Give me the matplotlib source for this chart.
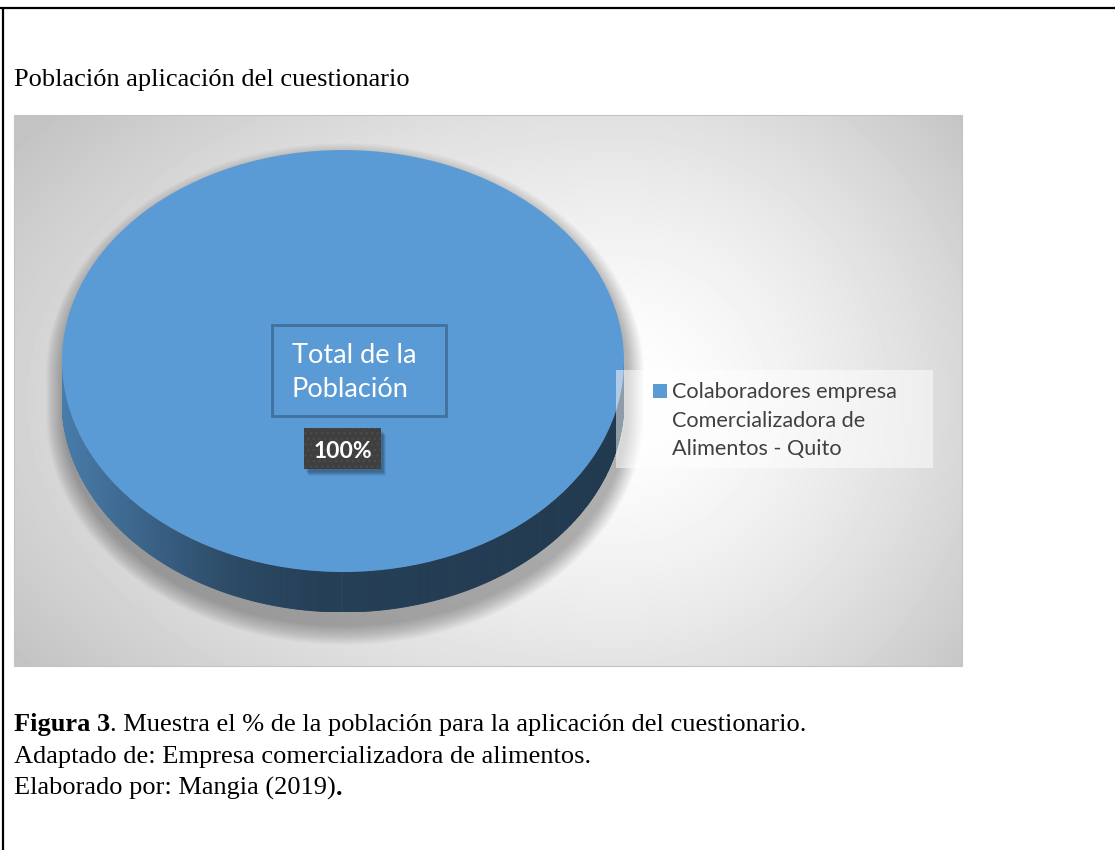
import numpy as np
import matplotlib
matplotlib.use("Agg")
import matplotlib.pyplot as plt
import matplotlib.colors as mcolors
from matplotlib.patches import Rectangle, Polygon
from matplotlib.collections import PolyCollection

# ---------------- data ----------------
page_title = "Población aplicación del cuestionario"
categories = ["Colaboradores empresa\nComercializadora de\nAlimentos - Quito"]
values = [100]
slice_colors = ["#5b9bd5"]
chart_title = "Total de la\nPoblación"
caption_bold = "Figura 3"
caption_rest = ". Muestra el % de la población para la aplicación del cuestionario."
caption_lines = ["Adaptado de: Empresa comercializadora de alimentos.",
                 "Elaborado por: Mangia (2019)"]
caption_end = "."

W, H = 1115, 850
SERIF = "Liberation Serif"
SANS = "Lato"

fig = plt.figure(figsize=(W / 100, H / 100), dpi=100)
fig.patch.set_facecolor("white")

# background / page axes in pixel coordinates
bg = fig.add_axes([0, 0, 1, 1])
bg.set_xlim(0, W)
bg.set_ylim(H, 0)
bg.axis("off")
bg.set_zorder(0)

# page frame
bg.plot([0, W], [8, 8], color="black", lw=1.6, solid_capstyle="butt")
bg.plot([3, 3], [8, H], color="black", lw=1.6, solid_capstyle="butt")

# chart area with radial gradient
px0, px1, py0, py1 = 14, 962, 115, 666
xs = np.arange(px0, px1) + 0.5
ys = np.arange(py0, py1) + 0.5
X, Y = np.meshgrid(xs, ys)
rx = np.where(X < 620, 700.0, 430.0)
d = np.sqrt(((X - 620) / rx) ** 2 + ((Y - 400) / 420.0) ** 2)
g = np.clip(255 - 55 * d ** 1.5, 196, 255) / 255.0
bg.imshow(g, cmap="gray", vmin=0, vmax=1, extent=(px0, px1, py1, py0),
          interpolation="bilinear", aspect="auto", zorder=0)
bg.add_patch(Rectangle((px0, py0), px1 - px0, py1 - py0, fill=False,
                       edgecolor="#c4c4c4", lw=0.8, zorder=1))

# page title
bg.text(14, 86, page_title, fontfamily=SERIF, fontsize=19, color="black",
        va="baseline", ha="left")

# captions
t1 = bg.text(14, 731, caption_bold, fontfamily=SERIF, fontsize=19,
             fontweight="bold", va="baseline", ha="left")
bg.annotate(caption_rest, xy=(1, 0), xycoords=t1, va="bottom", ha="left",
            fontfamily=SERIF, fontsize=19)
last = None
for i, line in enumerate(caption_lines):
    last = bg.text(14, 763 + i * 31.5, line, fontfamily=SERIF, fontsize=19,
                   va="baseline", ha="left")
bg.annotate(caption_end, xy=(1, 0), xycoords=last, va="bottom", ha="left",
            fontfamily=SERIF, fontsize=19, fontweight="bold")

# ---------------- 3D pie ----------------
cx0, cx1 = 62, 624
top, face_bottom, side_bottom = 150, 572, 612
a_px = (cx1 - cx0) / 2.0
b_px = (face_bottom - top) / 2.0
depth = (side_bottom - face_bottom) / b_px

ax = fig.add_axes([cx0 / W, 1 - side_bottom / H, (cx1 - cx0) / W,
                   (side_bottom - top) / H])
ax.set_zorder(2)
ax.patch.set_alpha(0)

wedges, _ = ax.pie(values, colors=slice_colors, startangle=90,
                   counterclock=False, radius=1,
                   wedgeprops=dict(linewidth=0))
ax.set_aspect("auto")
ax.set_xlim(-1, 1)
ax.set_ylim(-1 - depth, 1)
ax.axis("off")

# soft shadow (mostly below the pie)
th_up = np.linspace(0, np.pi, 120)
th_dn = np.linspace(np.pi, 2 * np.pi, 120)
n_layers = 20
for k in range(n_layers, 0, -1):
    mx = k * 0.9
    my = k * 1.0
    sx = (a_px + mx) / a_px
    sy = (b_px + my) / b_px
    offx = 2 / a_px
    offy = -13 / b_px
    pts = np.concatenate([
        np.column_stack([sx * np.cos(th_up) + offx, sy * np.sin(th_up) + offy]),
        np.column_stack([sx * np.cos(th_dn) + offx, sy * np.sin(th_dn) - depth + offy]),
    ])
    ax.add_patch(Polygon(pts, closed=True, facecolor="black", edgecolor="none",
                         alpha=0.016, zorder=0.2, clip_on=False))

# side wall with horizontal shading derived from the slice colour
base = np.array(mcolors.to_rgb(slice_colors[0]))
shade_t = [0.0, 0.3, 0.45, 1.0]
shade_f = [0.80, 0.48, 0.41, 0.37]
th = np.linspace(np.pi, 2 * np.pi, 400)
polys, cols = [], []
for t_a, t_b in zip(th[:-1], th[1:]):
    xa, xb = np.cos(t_a), np.cos(t_b)
    ya, yb = np.sin(t_a), np.sin(t_b)
    polys.append([(xa, ya), (xb, yb), (xb, yb - depth), (xa, ya - depth)])
    tt = ((xa + xb) / 2 + 1) / 2
    f = np.interp(tt, shade_t, shade_f)
    cols.append(tuple(base * f))
pc = PolyCollection(polys, facecolors=cols, edgecolors=cols, linewidths=0.6,
                    zorder=0.5)
ax.add_collection(pc)

# ---------------- overlay (titles, labels, legend) ----------------
ov = fig.add_axes([0, 0, 1, 1])
ov.set_xlim(0, W)
ov.set_ylim(H, 0)
ov.axis("off")
ov.set_zorder(3)
ov.patch.set_alpha(0)

# chart title box
ov.add_patch(Rectangle((272, 325), 174, 91, fill=False, edgecolor="#41719c",
                       lw=2.0))
for i, line in enumerate(chart_title.split("\n")):
    ov.text(292, 363 + i * 34, line, fontfamily=SANS, fontsize=19.5,
            color="white", va="baseline", ha="left")

# data label
pct = values[0] / sum(values) * 100
for k in range(6):
    ov.add_patch(Rectangle((304 + 2 + k * 0.6, 428 + 3 + k * 0.8), 77, 41,
                           facecolor="black", edgecolor="none", alpha=0.06))
ov.add_patch(Rectangle((304, 428), 77, 41, facecolor="#3f3f3f",
                       edgecolor="#4b4b4b", lw=0, hatch="..."))
ov.text(342.5, 458, f"{pct:.0f}%", fontfamily=SANS, fontsize=16.5,
        fontweight="bold", color="white", va="baseline", ha="center")

# legend
ov.add_patch(Rectangle((616, 370), 317, 98, facecolor="white", alpha=0.5,
                       edgecolor="none"))
ov.add_patch(Rectangle((653, 384), 14, 14, facecolor=slice_colors[0],
                       edgecolor="none"))
for i, line in enumerate(categories[0].split("\n")):
    ov.text(672, 398 + i * 28.5, line, fontfamily=SANS, fontsize=15.6,
            color="#404040", va="baseline", ha="left")

fig.savefig("out.png", dpi=100, facecolor="white")
